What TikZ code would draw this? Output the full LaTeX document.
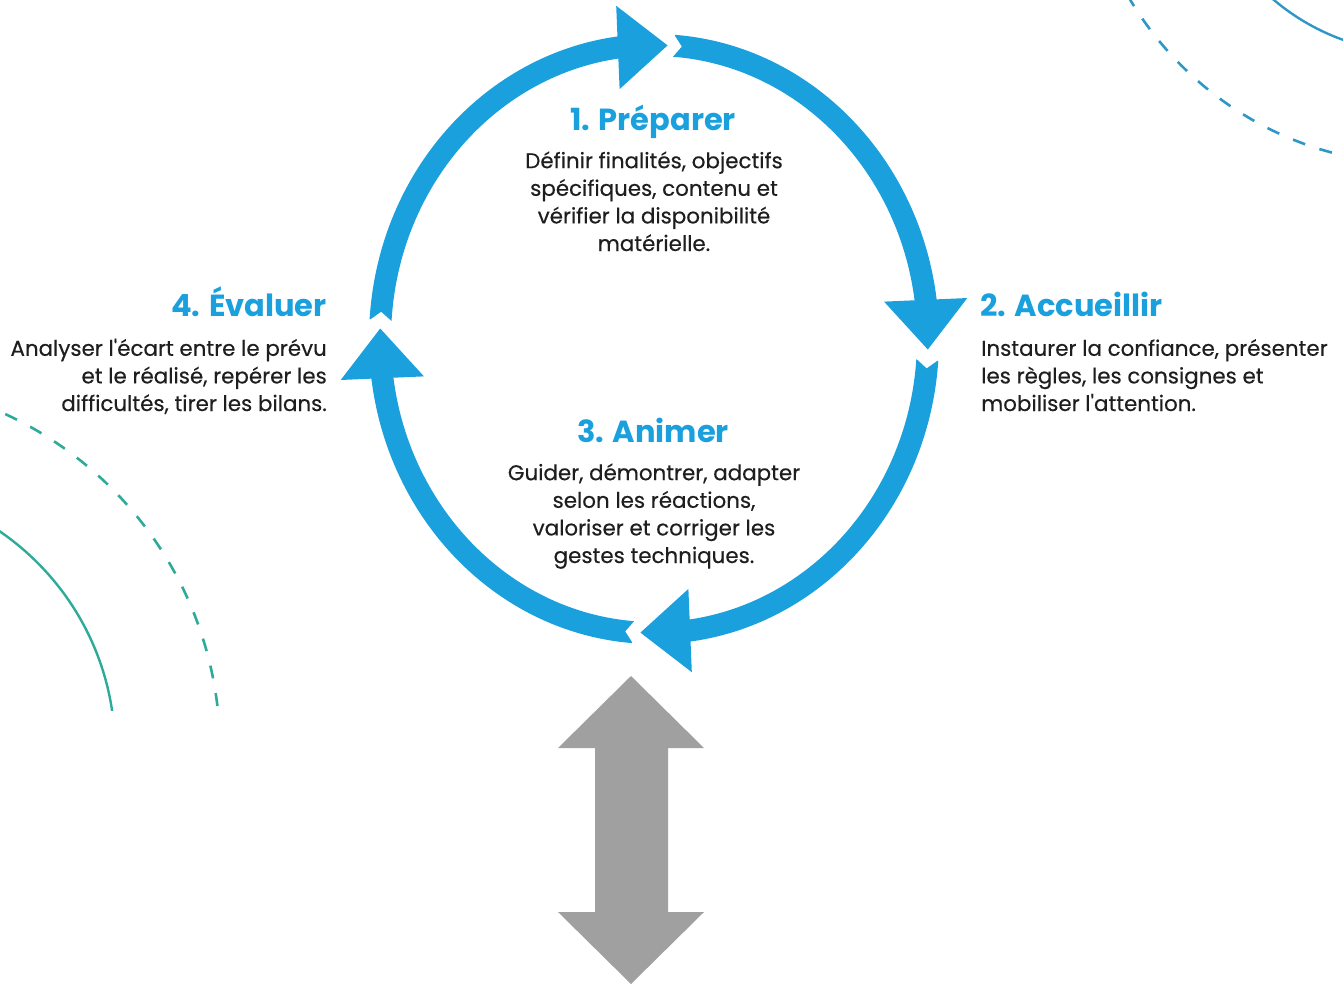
\documentclass[tikz,border=0pt]{standalone}
\usepackage{fontspec}
\setmainfont{Poppins}
\newfontfamily\bodyfont{Poppins}[FakeBold=0.35]
\usetikzlibrary{arrows.meta,bending}
\definecolor{cycblue}{HTML}{1BA0DE}
\definecolor{txtgray}{HTML}{1E1E1E}
\definecolor{decoblue}{HTML}{2E97C8}
\definecolor{decoteal}{HTML}{2DAA9A}
\definecolor{arrgray}{HTML}{A0A0A0}
\newcommand\EP[2]{({654+(274+#2)*cos(#1)},{339+(294+#2)*sin(#1)})}
\newcommand\cycarc[2]{%
  \draw[cycarrow] \EP{#1}{0} arc[start angle=#1, end angle=#2, x radius=274, y radius=294];
  \fill[white] \EP{#1-0.6}{14} -- \EP{#1+1.6}{0} -- \EP{#1-0.6}{-14} -- cycle;}
\newcommand\apos{\symbol{39}}
\begin{document}
\begin{tikzpicture}[x=1pt,y=-1pt,
  cycarrow/.style={draw=cycblue, line width=22pt, -{Triangle[width=80pt,length=50pt]}},
  head/.style={font=\fontsize{30.5}{34}\selectfont\bfseries, text=cycblue, inner sep=0pt, anchor=base},
  body/.style={font=\bodyfont\fontsize{21.4}{27.6}\selectfont, text=txtgray, inner sep=0pt, anchor=base},
  decosolid/.style={line width=2.4pt},
  decodash/.style={line width=2.6pt, dash pattern=on 13pt off 15pt}]
\useasboundingbox (0,0) rectangle (1343,986);
% decorations
\begin{scope}
  \clip (0,0) rectangle (1343,710);
  \draw[decoteal, decosolid] (-150,750) circle (265);
  \draw[decoteal, decodash] (-150,750) circle (370);
\end{scope}
\begin{scope}
  \clip (0,0) rectangle (1343,986);
  \draw[decoblue, decosolid] (1419,-172) circle (225);
  \draw[decoblue, decodash] (1419,-172) circle (336);
\end{scope}
% cycle
\cycarc{-85.8}{2.1}
\cycarc{4.1}{92.9}
\cycarc{94.4}{182.1}
\cycarc{183.7}{272.9}
% texts (base anchor of a multi-line node = baseline of its last line)
\node[head] (h1) at (653,130) {1. Préparer};
\node[body, align=center] (b1) at (654,251) {Définir finalités, objectifs\\spécifiques, contenu et\\vérifier la disponibilité\\matérielle.};
\node[head, anchor=base west] (h2) at (980,316) {2. Accueillir};
\node[body, align=left, anchor=base west] (b2) at (981,411) {Instaurer la confiance, présenter\\les règles, les consignes et\\mobiliser l\apos attention.};
\node[head] (h3) at (653,442) {3. Animer};
\node[body, align=center] (b3) at (654,563) {Guider, démontrer, adapter\\selon les réactions,\\valoriser et corriger les\\gestes techniques.};
\node[head, anchor=base east] (h4) at (327,316) {4. Évaluer};
\node[body, align=right, anchor=base east] (b4) at (327,411) {Analyser l\apos écart entre le prévu\\et le réalisé, repérer les\\difficultés, tirer les bilans.};
% grey double arrow
\fill[arrgray] (631,676) -- (704,748) -- (668,748) -- (668,912) -- (704,912) -- (631,984)
  -- (558,912) -- (595,912) -- (595,748) -- (558,748) -- cycle;
\end{tikzpicture}
\end{document}
